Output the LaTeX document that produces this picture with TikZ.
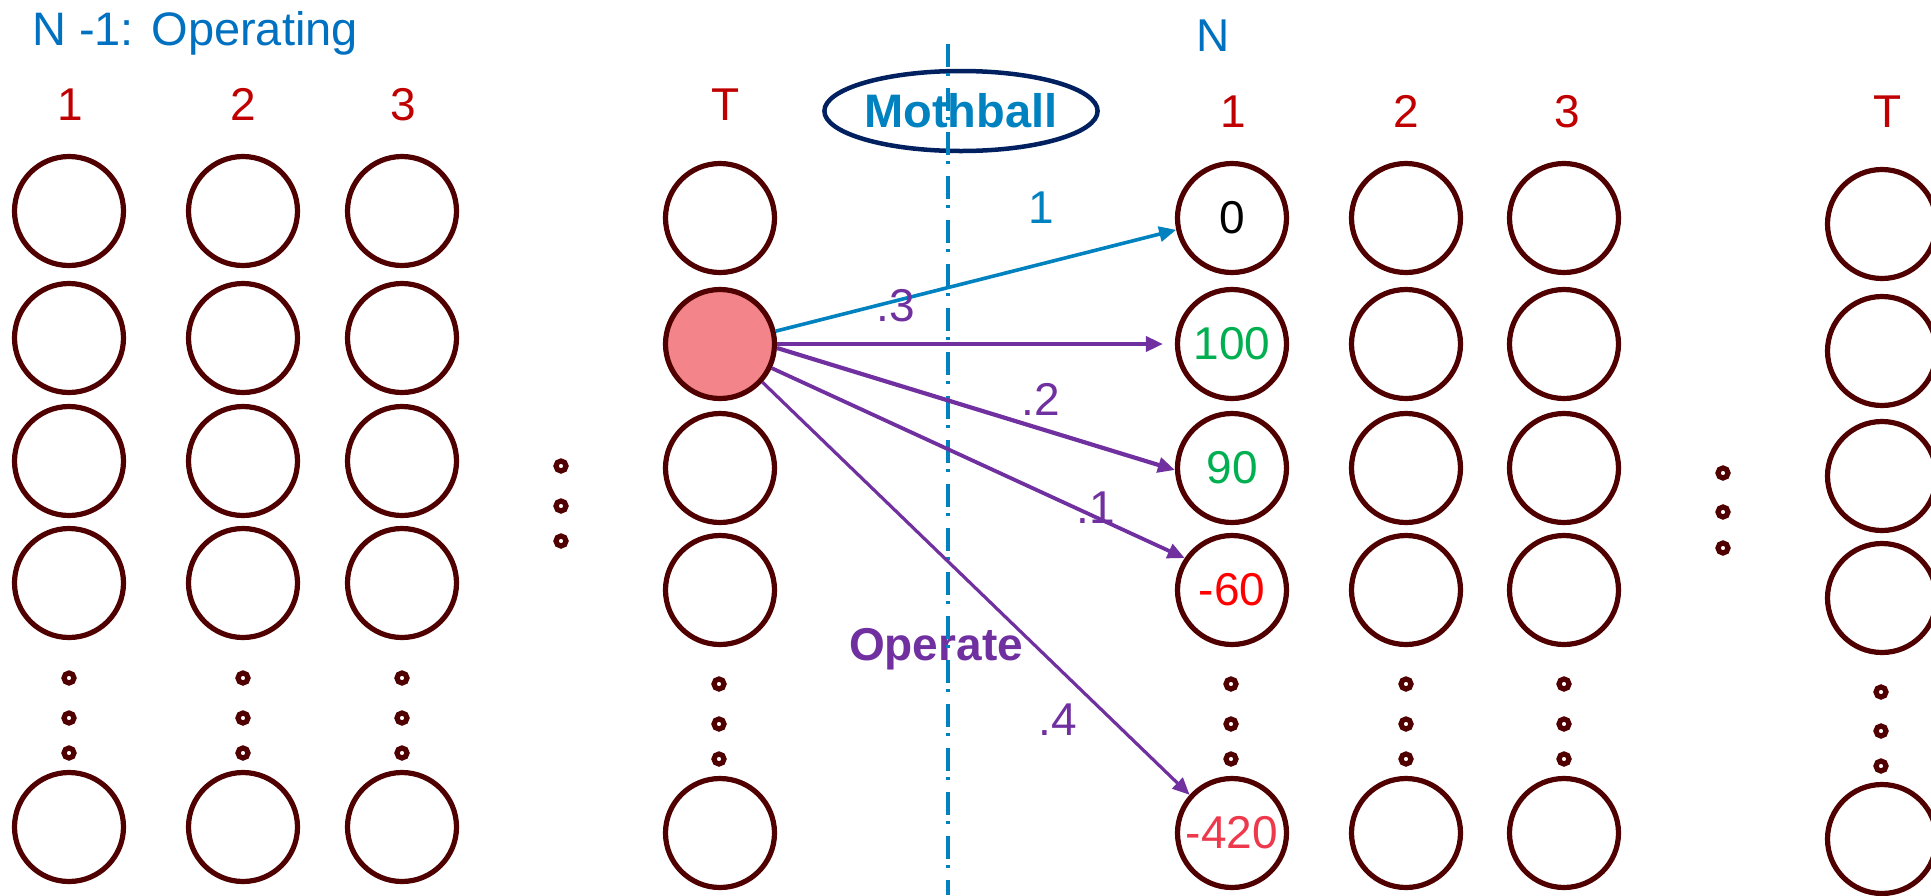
\documentclass[tikz,border=0pt]{standalone}
\usepackage{fontspec}
\setmainfont{Liberation Sans}
\usetikzlibrary{arrows.meta,shapes.geometric}
\definecolor{stk}{RGB}{80,0,0}
\definecolor{ttlblue}{RGB}{0,112,192}
\definecolor{lnblue}{RGB}{0,130,192}
\definecolor{navy}{RGB}{0,32,96}
\definecolor{colred}{RGB}{192,0,0}
\definecolor{purp}{RGB}{112,48,160}
\definecolor{pinkfill}{RGB}{242,132,138}
\definecolor{grn}{RGB}{0,176,80}
\definecolor{rd}{RGB}{255,0,0}
\definecolor{rdb}{RGB}{238,56,76}
\begin{document}
\begin{tikzpicture}[x=1pt,y=-1pt,
  st/.style={circle, draw=stk, line width=5.2pt, minimum size=109pt, inner sep=0pt, fill=white, font=\fontsize{46}{46}\selectfont},
  dt/.style={circle, draw=stk, line width=5.2pt, minimum size=10pt, inner sep=0pt, fill=white},
  collbl/.style={anchor=base, text=colred, inner sep=0pt, font=\fontsize{46}{46}\selectfont},
  elab/.style={anchor=base, inner sep=0pt, font=\fontsize{46}{46}\selectfont},
  barr/.style={draw=lnblue, line width=3.6pt, -{Triangle[length=17pt,width=15pt]}},
  parr/.style={draw=purp, line width=3.8pt, -{Triangle[length=17pt,width=15pt]}},
  divline/.style={draw=lnblue, line width=4.5pt, dash pattern=on 23pt off 6pt on 3pt off 12pt}
]
\useasboundingbox (0,0) rectangle (1931,895);

% titles
\node[anchor=base west, inner sep=0pt, text=ttlblue, font=\fontsize{47}{47}\selectfont] (title) at (32,45) {N -1: Operating};
\node[anchor=base, inner sep=0pt, text=ttlblue, font=\fontsize{46}{46}\selectfont] (Ntitle) at (1213,51) {N};

% column labels
\node[collbl] (lab1) at (70,120) {1};
\node[collbl] (lab2) at (243,120) {2};
\node[collbl] (lab3) at (403,120) {3};
\node[collbl] (labT) at (726,120) {T};
\node[collbl] (rlab1) at (1233,127) {1};
\node[collbl] (rlab2) at (1406,127) {2};
\node[collbl] (rlab3) at (1567,127) {3};
\node[collbl] (rlabT) at (1888,127) {T};

% left columns 1-3
\foreach \n/\x in {La/69, Lb/243, Lc/402} {
  \foreach \r/\y in {1/211, 2/338, 3/461, 4/583, 5/827} { \node[st] (\n\r) at (\x,\y) {}; }
  \foreach \d/\y in {1/678, 2/718, 3/753} { \node[dt] (\n d\d) at (\x,\y) {}; }
}
% left T column
\foreach \r/\y in {1/218, 3/468, 4/590, 5/833} { \node[st] (LT\r) at (720,\y) {}; }
\node[st, fill=pinkfill] (LT2) at (720,344) {};
\foreach \d/\y in {1/684, 2/724, 3/759} { \node[dt] (LTd\d) at (719,\y) {}; }
% middle dots left
\foreach \d/\y in {1/466, 2/506, 3/541} { \node[dt] (Lm\d) at (561,\y) {}; }

% right columns
\node[st, text=black] (Ra1) at (1232,218) {0};
\node[st, text=grn] (Ra2) at (1232,344) {100};
\node[st, text=grn] (Ra3) at (1232,468) {90};
\node[st, text=rd] (Ra4) at (1232,590) {-60};
\node[st, text=rdb] (Ra5) at (1232,833) {-420};
\foreach \d/\y in {1/684, 2/724, 3/759} { \node[dt] (Rad\d) at (1231,\y) {}; }
\foreach \n/\x in {Rb/1406, Rc/1564} {
  \foreach \r/\y in {1/218, 2/344, 3/468, 4/590, 5/833} { \node[st] (\n\r) at (\x,\y) {}; }
  \foreach \d/\y in {1/684, 2/724, 3/759} { \node[dt] (\n d\d) at (\x,\y) {}; }
}
\foreach \r/\y in {1/224, 2/351, 3/476, 4/598, 5/839} { \node[st] (RT\r) at (1882,\y) {}; }
\foreach \d/\y in {1/692, 2/731, 3/766} { \node[dt] (RTd\d) at (1881,\y) {}; }
\foreach \d/\y in {1/473, 2/512, 3/548} { \node[dt] (Rm\d) at (1723,\y) {}; }

% Mothball
\node[ellipse, draw=navy, line width=4.5pt, minimum width=246pt, minimum height=80pt, inner sep=0pt, text=lnblue, font=\fontsize{47}{47}\selectfont\bfseries] (moth) at (961,111) {Mothball};
% Operate
\node[anchor=base, inner sep=0pt, text=purp, font=\fontsize{46}{46}\selectfont\bfseries] (oper) at (936,660) {Operate};

% divider
\coordinate (divtop) at (948,44);
\coordinate (divbot) at (948,895);
\draw[divline] (divtop) -- (divbot);

% arrows
\draw[barr] (LT2.13) -- (Ra1.192);
\draw[parr, shorten >=12pt] (LT2.0) -- (Ra2.180);
\draw[parr, line width=4.2pt] (LT2.-4) -- (Ra3.182);
\draw[parr] (LT2.-25) -- (Ra4.146);
\draw[parr, line width=3.2pt] (LT2.-42) -- (Ra5.138);

% edge labels
\node[elab, text=lnblue] (e1) at (1041,223) {1};
\node[elab, text=purp] (e3) at (896,321) {.3};
\node[elab, text=purp] (e2) at (1041,415) {.2};
\node[elab, text=purp] (e1b) at (1096,523) {.1};
\node[elab, text=purp] (e4) at (1058,735) {.4};
\end{tikzpicture}
\end{document}
